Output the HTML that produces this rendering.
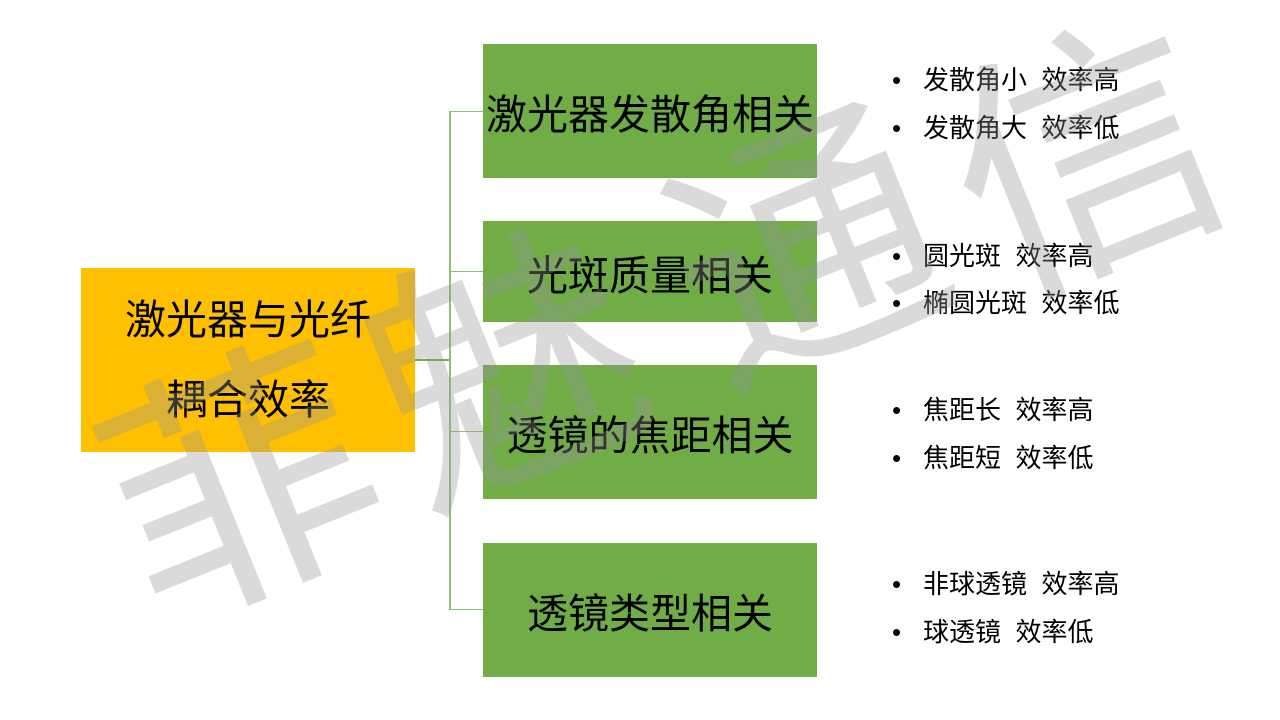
<!DOCTYPE html>
<html><head><meta charset="utf-8"><style>
body{margin:0;width:1280px;height:720px;background:#fff;position:relative;overflow:hidden;font-family:"Liberation Sans","Noto Sans CJK SC",sans-serif}
.b{position:absolute;display:flex;align-items:center;justify-content:center;color:#000;font-size:41px;text-align:center}
.g{background:#70ad47;left:483px;width:334px}
.l{position:absolute;background:#8fbf70}
.t{position:absolute;left:892px;font-size:26px;line-height:26px;color:#000;white-space:pre}
.t span{display:inline-block;width:31px}
.wm{position:absolute;top:0;left:0}
</style></head><body>
<div class="b" style="left:81px;top:268px;width:334px;height:184px;background:#ffc000;font-size:41px;line-height:80px">激光器与光纤<br>耦合效率</div>
<div class="l" style="left:415px;top:359px;width:34px;height:1.5px;background:#70ad47"></div>
<div class="l" style="left:449px;top:111px;width:1.5px;height:498px"></div>
<div class="l" style="left:449px;top:111px;width:34px;height:1px"></div>
<div class="l" style="left:449px;top:271px;width:34px;height:1px"></div>
<div class="l" style="left:449px;top:431px;width:34px;height:1px"></div>
<div class="l" style="left:449px;top:609px;width:34px;height:1px"></div>
<div class="b g" style="top:44px;height:134px">激光器发散角相关</div>
<div class="b g" style="top:221px;height:101px">光斑质量相关</div>
<div class="b g" style="top:365px;height:134px">透镜的焦距相关</div>
<div class="b g" style="top:543px;height:134px">透镜类型相关</div>
<div class="t" style="top:67px"><span>•</span>发散角小  效率高</div>
<div class="t" style="top:115px"><span>•</span>发散角大  效率低</div>
<div class="t" style="top:243px"><span>•</span>圆光斑  效率高</div>
<div class="t" style="top:290px"><span>•</span>椭圆光斑  效率低</div>
<div class="t" style="top:397px"><span>•</span>焦距长  效率高</div>
<div class="t" style="top:445px"><span>•</span>焦距短  效率低</div>
<div class="t" style="top:571px"><span>•</span>非球透镜  效率高</div>
<div class="t" style="top:619px"><span>•</span>球透镜  效率低</div>
<svg class="wm" width="1280" height="720" style="font-family:'Noto Sans CJK SC',sans-serif;font-size:265px;font-weight:400" fill="rgba(150,150,150,0.35)">
<text transform="translate(250,505) rotate(-22)" text-anchor="middle" dominant-baseline="middle">菲</text>
<text transform="translate(515,390) rotate(-22)" text-anchor="middle" dominant-baseline="middle">魅</text>
<text transform="translate(815,270) rotate(-22)" text-anchor="middle" dominant-baseline="middle">通</text>
<text transform="translate(1095,180) rotate(-22)" text-anchor="middle" dominant-baseline="middle">信</text>
</svg>
</body></html>
